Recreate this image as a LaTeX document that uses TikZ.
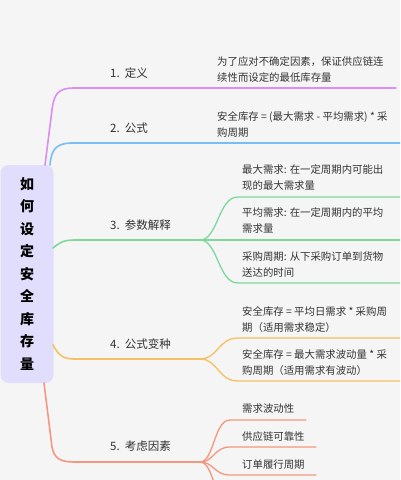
\documentclass[tikz,border=0pt]{standalone}
\usepackage{fontspec}
\setmainfont{Noto Sans CJK SC}
\definecolor{bgc}{HTML}{F5F5F5}
\definecolor{rootc}{HTML}{E0DEFC}
\definecolor{cpur}{HTML}{D98EF0}
\definecolor{cblu}{HTML}{78BEF5}
\definecolor{cgrn}{HTML}{7ED89B}
\definecolor{corg}{HTML}{F5C05F}
\definecolor{csal}{HTML}{F5977C}
\definecolor{txt}{HTML}{333333}
\newcommand{\numgap}{\hspace{5pt}}
\begin{document}
\begin{tikzpicture}[x=1pt,y=-1pt,
  rootbox/.style={draw=none,fill=rootc,rounded corners=8pt,minimum width=53pt,minimum height=218pt,inner sep=0pt,
    align=center,font=\fontsize{14}{22.5}\selectfont\bfseries,text=black},
  lbl/.style={anchor=west,inner sep=0pt,font=\fontsize{11.5}{14}\selectfont,text=txt},
  leaf/.style={anchor=west,inner sep=0pt,align=left,font=\fontsize{10.4}{16}\selectfont,text=txt},
  br/.style={line width=1.6pt,line cap=round},
  lf/.style={line width=1.3pt,line cap=round}]
\fill[bgc] (0,0) rectangle (400,480);
\useasboundingbox (0,0) rectangle (400,480);
\clip (0,0) rectangle (400,480);

% root
\node[rootbox] (root) at (27,274) {如\\何\\设\\定\\安\\全\\库\\存\\量};

% coordinates
\coordinate (r1) at (45,165);
\coordinate (r2) at (50,165);
\coordinate (r3) at (53,248);
\coordinate (r4) at (53,345);
\coordinate (r5) at (44,383);
\coordinate (f1) at (200,88);
\coordinate (f2) at (200,143);
\coordinate (f3) at (200,240);
\coordinate (f4) at (200,359);
\coordinate (f5) at (200,462);

% branch 1
\draw[br,cpur] (r1) -- (52,110) .. controls (54,94) and (58,88) .. (74,88) -- (f1);
\coordinate (e1) at (396,88);
\draw[lf,cpur] (f1) -- (e1);
\node[lbl] (l1) at (110,73) {1.\numgap 定义};
\node[leaf] (t1) at (217,70) {为了应对不确定因素，保证供应链连\\续性而设定的最低库存量};

% branch 2
\draw[br,cblu] (r2) .. controls (51,150) and (56,143) .. (72,143) -- (f2);
\coordinate (e2) at (400,143);
\draw[lf,cblu] (f2) -- (e2);
\node[lbl] (l2) at (110,128) {2.\numgap 公式};
\node[leaf] (t2) at (217,125) {安全库存 = (最大需求 - 平均需求) * 采\\购周期};

% branch 3
\draw[br,cgrn] (r3) .. controls (58,244) and (62,240) .. (74,240) -- (f3);
\node[lbl] (l3) at (110,225) {3.\numgap 参数解释};
\coordinate (a31) at (238,197); \coordinate (b31) at (400,197);
\coordinate (a32) at (238,240); \coordinate (b32) at (400,240);
\coordinate (a33) at (238,283); \coordinate (b33) at (400,283);
\draw[lf,cgrn] (f3) .. controls (218,240) and (218,197) .. (a31) -- (b31);
\draw[lf,cgrn] (f3) -- (a32) -- (b32);
\draw[lf,cgrn] (f3) .. controls (218,240) and (218,283) .. (a33) -- (b33);
\node[leaf] (t31) at (242,178) {最大需求: 在一定周期内可能出\\现的最大需求量};
\node[leaf] (t32) at (242,221) {平均需求: 在一定周期内的平均\\需求量};
\node[leaf] (t33) at (242,265) {采购周期: 从下采购订单到货物\\送达的时间};

% branch 4
\draw[br,corg] (r4) .. controls (58,354) and (62,359) .. (74,359) -- (f4);
\node[lbl] (l4) at (110,344) {4.\numgap 公式变种};
\coordinate (a41) at (238,338); \coordinate (b41) at (400,338);
\coordinate (a42) at (238,381); \coordinate (b42) at (400,381);
\draw[lf,corg] (f4) .. controls (218,359) and (218,338) .. (a41) -- (b41);
\draw[lf,corg] (f4) .. controls (218,359) and (218,381) .. (a42) -- (b42);
\node[leaf] (t41) at (242,320) {安全库存 = 平均日需求 * 采购周\\期（适用需求稳定）};
\node[leaf] (t42) at (242,363) {安全库存 = 最大需求波动量 * 采\\购周期（适用需求有波动）};

% branch 5
\draw[br,csal] (r5) -- (52,447) .. controls (54,458) and (60,462) .. (74,462) -- (f5);
\node[lbl] (l5) at (110,446) {5.\numgap 考虑因素};
\coordinate (a51) at (230,420); \coordinate (b51) at (306,420);
\coordinate (a52) at (230,447); \coordinate (b52) at (316,447);
\coordinate (a53) at (230,475); \coordinate (b53) at (316,475);
\coordinate (a54) at (230,504); \coordinate (b54) at (316,504);
\draw[lf,csal] (f5) .. controls (214,462) and (214,420) .. (a51) -- (b51);
\draw[lf,csal] (f5) .. controls (214,462) and (214,447) .. (a52) -- (b52);
\draw[lf,csal] (f5) .. controls (214,462) and (214,475) .. (a53) -- (b53);
\draw[lf,csal] (f5) .. controls (214,462) and (214,504) .. (a54) -- (b54);
\node[leaf] (t51) at (242,409) {需求波动性};
\node[leaf] (t52) at (242,437) {供应链可靠性};
\node[leaf] (t53) at (242,465) {订单履行周期};
\end{tikzpicture}
\end{document}
